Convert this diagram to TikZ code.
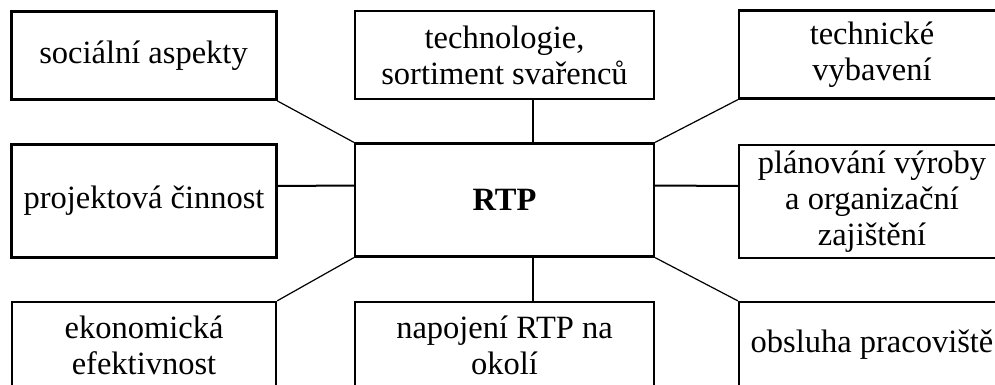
\documentclass[tikz,border=0pt]{standalone}
\usepackage{fontspec}
\setmainfont{Liberation Serif}
\begin{document}
\begin{tikzpicture}[x=1pt,y=-1pt,
  box/.style={draw, rectangle, inner sep=0pt, line width=2.3pt, align=center,
    font=\fontsize{32.5}{36}\selectfont},
  thickbox/.style={box, line width=3pt},
  side/.style={minimum width=265pt},
  mid/.style={minimum width=299pt},
  toprow/.style={minimum height=88pt},
  midrow/.style={minimum height=113pt},
  botrow/.style={minimum height=86pt},
  straight/.style={line width=2pt},
  diag/.style={line width=1.2pt}]
\useasboundingbox (0,0) rectangle (995,385);
\clip (0,0) rectangle (995,385);
% top row
\node[thickbox, side, toprow] (soc) at (143.5,55.5) {sociální aspekty};
\node[box, mid, toprow] (tech) at (504.5,55) {technologie,\\sortiment svařenců};
\node[box, side, toprow, minimum width=266pt] (vyb) at (872,54.5) {technické\\vybavení};
% middle row
\node[thickbox, side, midrow] (proj) at (144,200.5) {projektová činnost};
\node[box, mid, midrow, font=\fontsize{32.5}{36}\selectfont\bfseries] (rtp) at (504.5,200) {RTP};
\node[box, side, midrow, minimum width=266pt] (plan) at (872,201.5) {plánování výroby\\a organizační\\zajištění};
% bottom row
\node[box, side, botrow, minimum width=264pt] (eko) at (144,345) {ekonomická\\efektivnost};
\node[box, mid, botrow] (nap) at (504.5,345) {napojení RTP na\\okolí};
\node[box, side, botrow, minimum width=266pt] (obs) at (872,345) {obsluha pracoviště};
% connectors
\draw[diag] (soc.south east) -- (rtp.north west);
\draw[diag] (vyb.south west) -- (rtp.north east);
\draw[diag] (eko.north east) -- (rtp.south west);
\draw[diag] (obs.north west) -- (rtp.south east);
\draw[straight] ([xshift=28.5pt]tech.south) -- ([xshift=28.5pt]rtp.north);
\draw[straight] ([xshift=28.5pt]nap.north) -- ([xshift=28.5pt]rtp.south);
\draw[straight] ([yshift=14.5pt]proj.east) -- ([yshift=14.5pt]rtp.west);
\draw[straight] ([yshift=15.5pt]plan.west) -- ([yshift=14.5pt]rtp.east);
\end{tikzpicture}
\end{document}
